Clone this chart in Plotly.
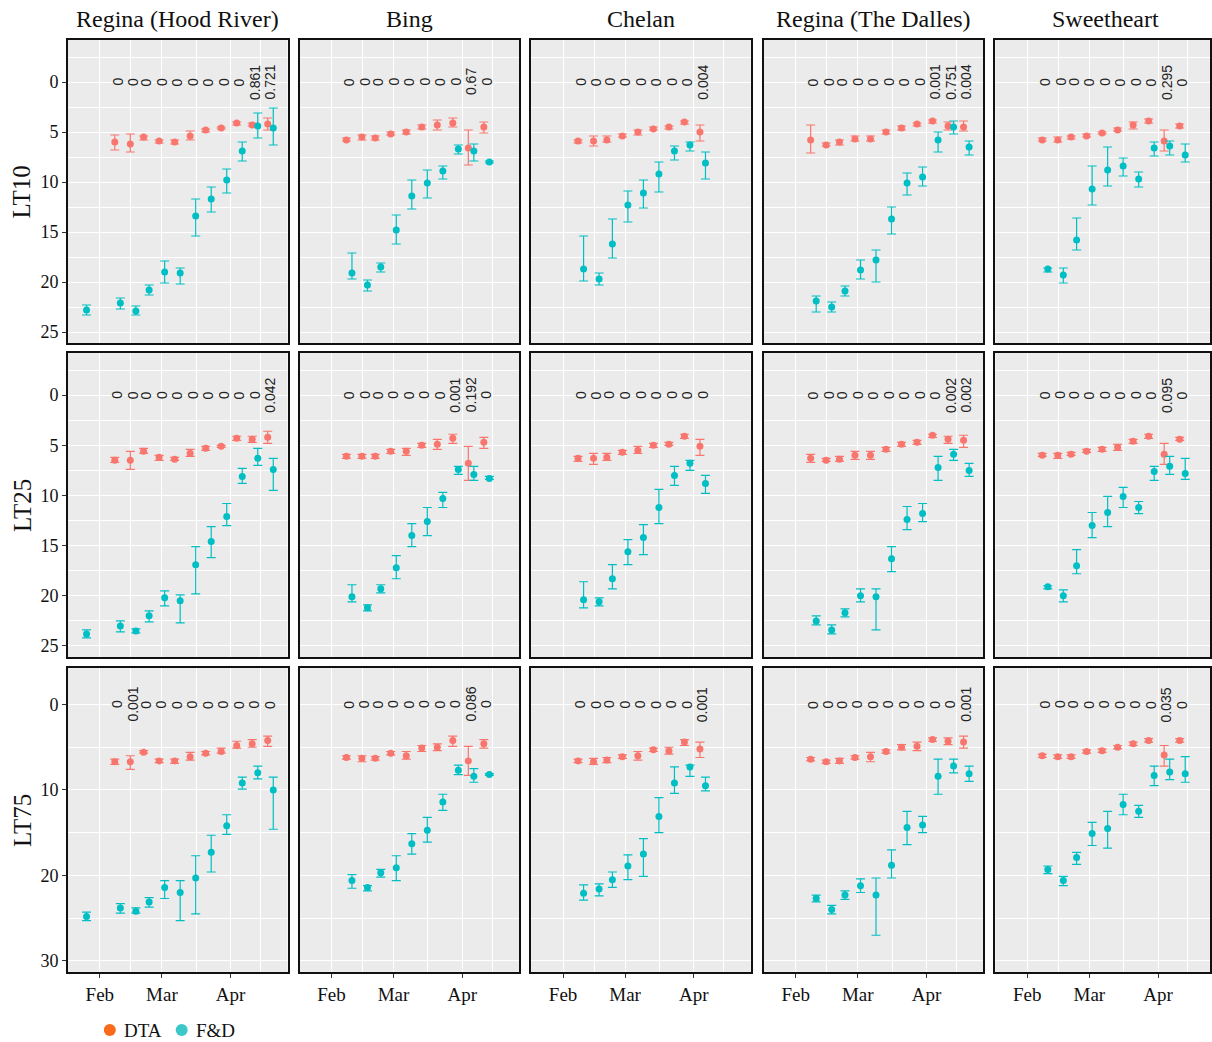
import pandas as pd
import plotly.graph_objects as go

# ---------------------------------------------------------------------------
# Sampling dates per cultivar / site
# ---------------------------------------------------------------------------
DATES_REGINA_HR = ["2021-01-26", "2021-02-09", "2021-02-16", "2021-02-22", "2021-03-01", "2021-03-08",
                   "2021-03-15", "2021-03-22", "2021-03-29", "2021-04-05", "2021-04-12", "2021-04-19"]
DATES_BING = ["2021-02-09", "2021-02-16", "2021-02-22", "2021-03-01", "2021-03-08",
              "2021-03-15", "2021-03-22", "2021-03-29", "2021-04-05", "2021-04-12"]
DATES_CHELAN = ["2021-02-09", "2021-02-16", "2021-02-22", "2021-03-01", "2021-03-08",
                "2021-03-15", "2021-03-22", "2021-03-29", "2021-04-05"]
DATES_REGINA_TD = ["2021-02-09", "2021-02-16", "2021-02-22", "2021-03-01", "2021-03-08", "2021-03-15",
                   "2021-03-22", "2021-03-29", "2021-04-05", "2021-04-12", "2021-04-19"]
DATES_SWEETHEART = ["2021-02-09", "2021-02-16", "2021-02-22", "2021-03-01", "2021-03-08",
                    "2021-03-15", "2021-03-22", "2021-03-29", "2021-04-05", "2021-04-12"]

CULTIVARS = ["Regina (Hood River)", "Bing", "Chelan", "Regina (The Dalles)", "Sweetheart"]
LEVELS = ["LT10", "LT25", "LT75"]

# ---------------------------------------------------------------------------
# LT10
# ---------------------------------------------------------------------------
LT10_RHR_DTA = [None, 6.0, 6.2, 5.5, 5.9, 6.0, 5.4, 4.8, 4.6, 4.1, 4.3, 4.2]
LT10_RHR_DTA_LO = [None, 5.3, 5.2, 5.4, 5.8, 5.8, 4.9, 4.7, 4.5, 4.0, 4.1, 3.6]
LT10_RHR_DTA_HI = [None, 6.8, 7.0, 5.8, 6.1, 6.2, 5.8, 5.0, 4.7, 4.3, 4.4, 4.8]
LT10_RHR_FD = [22.8, 22.1, 22.9, 20.8, 19.0, 19.1, 13.4, 11.7, 9.8, 6.9, 4.4, 4.6]
LT10_RHR_FD_LO = [22.3, 21.6, 22.4, 20.3, 17.9, 18.6, 11.7, 10.5, 8.7, 6.0, 3.1, 2.6]
LT10_RHR_FD_HI = [23.3, 22.7, 23.3, 21.3, 20.1, 20.2, 15.4, 13.0, 11.1, 7.9, 5.6, 6.3]
LT10_RHR_P = [None, "0", "0", "0", "0", "0", "0", "0", "0", "0", "0.861", "0.721"]

LT10_BING_DTA = [5.8, 5.5, 5.6, 5.2, 5.0, 4.5, 4.3, 4.1, 6.6, 4.5]
LT10_BING_DTA_LO = [5.6, 5.3, 5.4, 5.0, 4.8, 4.3, 3.8, 3.6, 4.8, 4.0]
LT10_BING_DTA_HI = [5.9, 5.8, 5.8, 5.3, 5.2, 4.7, 4.8, 4.5, 8.3, 5.1]
LT10_BING_FD = [19.1, 20.3, 18.5, 14.8, 11.4, 10.1, 8.9, 6.7, 6.9, 8.0]
LT10_BING_FD_LO = [17.1, 19.8, 18.1, 13.3, 9.8, 8.8, 8.4, 6.3, 6.2, 7.9]
LT10_BING_FD_HI = [19.7, 20.9, 19.0, 16.2, 12.7, 11.6, 9.7, 7.2, 7.9, 8.1]
LT10_BING_P = ["0", "0", "0", "0", "0", "0", "0", "0", "0.67", "0"]

LT10_CHELAN_DTA = [5.9, 5.9, 5.8, 5.4, 5.0, 4.7, 4.5, 4.0, 5.0]
LT10_CHELAN_DTA_LO = [5.8, 5.4, 5.4, 5.2, 4.8, 4.5, 4.4, 3.9, 4.3]
LT10_CHELAN_DTA_HI = [6.1, 6.4, 6.0, 5.5, 5.3, 4.8, 4.7, 4.2, 5.9]
LT10_CHELAN_FD = [18.7, 19.7, 16.2, 12.3, 11.1, 9.2, 6.9, 6.3, 8.1]
LT10_CHELAN_FD_LO = [15.4, 19.1, 13.7, 10.9, 9.8, 8.0, 6.4, 6.0, 7.0]
LT10_CHELAN_FD_HI = [19.9, 20.3, 17.6, 14.0, 12.6, 11.0, 7.8, 6.9, 9.7]
LT10_CHELAN_P = ["0", "0", "0", "0", "0", "0", "0", "0", "0.004"]

LT10_RTD_DTA = [5.8, 6.3, 6.0, 5.7, 5.7, 5.0, 4.6, 4.2, 3.9, 4.4, 4.5]
LT10_RTD_DTA_LO = [4.3, 6.1, 5.8, 5.4, 5.4, 4.8, 4.4, 4.1, 3.8, 4.0, 3.9]
LT10_RTD_DTA_HI = [7.1, 6.4, 6.3, 5.9, 5.9, 5.2, 4.8, 4.4, 4.1, 4.8, 4.9]
LT10_RTD_FD = [21.9, 22.5, 20.9, 18.8, 17.8, 13.7, 10.1, 9.5, 5.8, 4.5, 6.5]
LT10_RTD_FD_LO = [21.4, 22.0, 20.4, 17.8, 16.8, 12.5, 9.1, 8.5, 5.0, 3.9, 5.9]
LT10_RTD_FD_HI = [23.0, 23.0, 21.4, 19.7, 20.0, 15.2, 11.3, 10.4, 7.0, 5.2, 7.3]
LT10_RTD_P = ["0", "0", "0", "0", "0", "0", "0", "0", "0.001", "0.751", "0.004"]

LT10_SWEET_DTA = [5.8, 5.8, 5.5, 5.4, 5.1, 4.8, 4.3, 3.9, 5.9, 4.4]
LT10_SWEET_DTA_LO = [5.6, 5.5, 5.4, 5.2, 5.0, 4.6, 4.0, 3.7, 4.8, 4.2]
LT10_SWEET_DTA_HI = [5.9, 6.0, 5.7, 5.5, 5.2, 4.9, 4.7, 4.1, 6.9, 4.6]
LT10_SWEET_FD = [18.7, 19.3, 15.8, 10.7, 8.8, 8.4, 9.7, 6.6, 6.4, 7.3]
LT10_SWEET_FD_LO = [18.6, 18.6, 13.6, 8.4, 6.5, 7.6, 9.0, 6.0, 5.9, 6.2]
LT10_SWEET_FD_HI = [19.0, 20.1, 16.8, 12.3, 10.4, 9.4, 10.5, 7.4, 7.3, 8.0]
LT10_SWEET_P = ["0", "0", "0", "0", "0", "0", "0", "0", "0.295", "0"]

# ---------------------------------------------------------------------------
# LT25
# ---------------------------------------------------------------------------
LT25_RHR_DTA = [None, 6.5, 6.5, 5.6, 6.2, 6.4, 5.8, 5.3, 5.1, 4.3, 4.4, 4.2]
LT25_RHR_DTA_LO = [None, 6.2, 5.6, 5.3, 6.0, 6.2, 5.4, 5.1, 5.0, 4.1, 4.1, 3.6]
LT25_RHR_DTA_HI = [None, 6.7, 7.4, 5.8, 6.5, 6.5, 6.1, 5.5, 5.2, 4.5, 4.7, 4.8]
LT25_RHR_FD = [23.8, 23.0, 23.5, 22.0, 20.2, 20.5, 16.9, 14.6, 12.1, 8.1, 6.3, 7.4]
LT25_RHR_FD_LO = [23.4, 22.5, 23.3, 21.5, 19.5, 19.9, 15.1, 13.1, 10.8, 7.3, 5.3, 6.3]
LT25_RHR_FD_HI = [24.2, 23.6, 23.7, 22.6, 21.0, 22.7, 19.8, 16.2, 13.0, 8.8, 7.0, 9.5]
LT25_RHR_P = [None, "0", "0", "0", "0", "0", "0", "0", "0", "0", "0", "0.042"]

LT25_BING_DTA = [6.1, 6.1, 6.1, 5.6, 5.6, 5.0, 4.9, 4.3, 6.8, 4.7]
LT25_BING_DTA_LO = [5.9, 5.9, 5.9, 5.4, 5.3, 4.8, 4.4, 3.9, 5.1, 4.2]
LT25_BING_DTA_HI = [6.3, 6.3, 6.3, 5.8, 6.0, 5.2, 5.4, 4.8, 8.5, 5.3]
LT25_BING_FD = [20.1, 21.2, 19.3, 17.2, 14.0, 12.6, 10.3, 7.4, 7.9, 8.3]
LT25_BING_FD_LO = [18.9, 20.9, 18.9, 16.0, 12.8, 11.2, 9.7, 7.1, 7.1, 8.1]
LT25_BING_FD_HI = [20.6, 21.5, 19.7, 18.3, 15.1, 14.0, 11.2, 7.9, 8.5, 8.4]
LT25_BING_P = ["0", "0", "0", "0", "0", "0", "0", "0.001", "0.192", "0"]

LT25_CHELAN_DTA = [6.3, 6.3, 6.2, 5.7, 5.5, 5.0, 4.9, 4.1, 5.1]
LT25_CHELAN_DTA_LO = [6.1, 5.8, 5.8, 5.5, 5.1, 4.8, 4.7, 3.9, 4.4]
LT25_CHELAN_DTA_HI = [6.6, 6.9, 6.5, 5.9, 5.8, 5.2, 5.0, 4.3, 6.0]
LT25_CHELAN_FD = [20.4, 20.6, 18.3, 15.6, 14.2, 11.2, 8.0, 6.8, 8.8]
LT25_CHELAN_FD_LO = [18.6, 20.2, 16.9, 14.4, 12.9, 9.4, 7.1, 6.5, 8.0]
LT25_CHELAN_FD_HI = [21.2, 21.0, 19.3, 16.9, 15.9, 12.8, 9.0, 7.5, 9.8]
LT25_CHELAN_P = ["0", "0", "0", "0", "0", "0", "0", "0", "0"]

LT25_RTD_DTA = [6.3, 6.5, 6.4, 6.0, 6.0, 5.4, 4.9, 4.7, 4.0, 4.4, 4.5]
LT25_RTD_DTA_LO = [5.9, 6.3, 6.1, 5.6, 5.6, 5.2, 4.7, 4.5, 3.9, 4.1, 4.0]
LT25_RTD_DTA_HI = [6.7, 6.6, 6.6, 6.4, 6.4, 5.6, 5.1, 4.9, 4.2, 4.8, 5.2]
LT25_RTD_FD = [22.5, 23.4, 21.7, 20.0, 20.1, 16.3, 12.4, 11.8, 7.2, 5.9, 7.5]
LT25_RTD_FD_LO = [22.0, 22.9, 21.3, 19.3, 19.3, 15.1, 11.1, 10.8, 6.1, 5.4, 6.8]
LT25_RTD_FD_HI = [22.9, 23.8, 22.1, 20.6, 23.4, 17.6, 13.4, 12.6, 8.5, 6.5, 8.1]
LT25_RTD_P = ["0", "0", "0", "0", "0", "0", "0", "0", "0", "0.002", "0.002"]

LT25_SWEET_DTA = [6.0, 6.0, 5.9, 5.6, 5.4, 5.2, 4.6, 4.1, 5.9, 4.4]
LT25_SWEET_DTA_LO = [5.8, 5.8, 5.7, 5.4, 5.2, 4.9, 4.4, 3.9, 4.8, 4.2]
LT25_SWEET_DTA_HI = [6.1, 6.3, 6.0, 5.7, 5.6, 5.5, 4.8, 4.3, 6.9, 4.5]
LT25_SWEET_FD = [19.1, 20.0, 17.0, 13.0, 11.7, 10.1, 11.2, 7.6, 7.1, 7.8]
LT25_SWEET_FD_LO = [19.0, 19.4, 15.4, 11.7, 10.1, 9.2, 10.6, 7.1, 6.1, 6.3]
LT25_SWEET_FD_HI = [19.3, 20.6, 17.8, 14.2, 13.1, 11.2, 11.8, 8.5, 7.9, 8.4]
LT25_SWEET_P = ["0", "0", "0", "0", "0", "0", "0", "0", "0.095", "0"]

# ---------------------------------------------------------------------------
# LT75
# ---------------------------------------------------------------------------
LT75_RHR_DTA = [None, 6.7, 6.7, 5.6, 6.6, 6.6, 6.1, 5.7, 5.5, 4.8, 4.6, 4.2]
LT75_RHR_DTA_LO = [None, 6.4, 6.0, 5.4, 6.4, 6.4, 5.6, 5.5, 5.1, 4.3, 4.1, 3.7]
LT75_RHR_DTA_HI = [None, 7.0, 7.6, 5.7, 6.8, 6.9, 6.5, 5.9, 5.7, 5.1, 5.0, 4.9]
LT75_RHR_FD = [24.8, 23.8, 24.2, 23.1, 21.4, 22.0, 20.3, 17.3, 14.2, 9.2, 8.0, 10.0]
LT75_RHR_FD_LO = [24.3, 23.3, 23.8, 22.6, 20.6, 20.6, 17.7, 15.3, 12.9, 8.5, 7.2, 8.5]
LT75_RHR_FD_HI = [25.3, 24.4, 24.4, 23.7, 22.7, 25.3, 24.5, 19.6, 15.2, 9.9, 8.7, 14.6]
LT75_RHR_P = [None, "0", "0.001", "0", "0", "0", "0", "0", "0", "0", "0", "0"]

LT75_BING_DTA = [6.2, 6.3, 6.3, 5.7, 6.0, 5.1, 5.0, 4.2, 6.6, 4.6]
LT75_BING_DTA_LO = [6.0, 6.0, 6.1, 5.5, 5.5, 4.8, 4.6, 3.7, 4.9, 4.1]
LT75_BING_DTA_HI = [6.4, 6.7, 6.5, 5.9, 6.4, 5.5, 5.4, 4.9, 8.3, 5.1]
LT75_BING_FD = [20.6, 21.4, 19.7, 19.1, 16.3, 14.7, 11.4, 7.7, 8.4, 8.2]
LT75_BING_FD_LO = [19.9, 21.2, 19.3, 17.7, 15.1, 13.2, 10.5, 7.1, 7.5, 8.1]
LT75_BING_FD_HI = [21.5, 21.8, 20.2, 20.6, 17.5, 16.1, 12.4, 8.2, 9.1, 8.3]
LT75_BING_P = ["0", "0", "0", "0", "0", "0", "0", "0", "0.086", "0"]

LT75_CHELAN_DTA = [6.6, 6.7, 6.5, 6.1, 6.0, 5.3, 5.4, 4.4, 5.2]
LT75_CHELAN_DTA_LO = [6.4, 6.3, 6.2, 5.9, 5.5, 5.1, 5.0, 4.1, 4.4]
LT75_CHELAN_DTA_HI = [6.8, 7.0, 6.8, 6.3, 6.5, 5.5, 5.8, 4.8, 6.2]
LT75_CHELAN_FD = [22.1, 21.6, 20.5, 18.9, 17.5, 13.1, 9.2, 7.3, 9.5]
LT75_CHELAN_FD_LO = [21.1, 21.0, 19.6, 17.6, 15.7, 10.9, 7.3, 7.1, 8.5]
LT75_CHELAN_FD_HI = [22.9, 22.4, 21.4, 20.5, 20.1, 15.0, 10.4, 8.4, 10.1]
LT75_CHELAN_P = ["0", "0", "0", "0", "0", "0", "0", "0", "0.001"]

LT75_RTD_DTA = [6.4, 6.7, 6.6, 6.2, 6.1, 5.5, 5.0, 4.9, 4.1, 4.3, 4.4]
LT75_RTD_DTA_LO = [6.2, 6.5, 6.3, 6.0, 5.6, 5.3, 4.7, 4.4, 3.9, 3.9, 3.7]
LT75_RTD_DTA_HI = [6.6, 6.9, 6.9, 6.4, 6.7, 5.7, 5.3, 5.4, 4.3, 4.7, 5.1]
LT75_RTD_FD = [22.7, 24.0, 22.3, 21.2, 22.3, 18.8, 14.4, 14.1, 8.4, 7.2, 8.1]
LT75_RTD_FD_LO = [22.3, 23.5, 21.8, 20.4, 20.3, 17.0, 12.5, 13.1, 6.4, 6.4, 7.2]
LT75_RTD_FD_HI = [23.1, 24.5, 22.8, 22.0, 27.0, 20.3, 16.4, 15.0, 10.5, 8.0, 9.0]
LT75_RTD_P = ["0", "0", "0", "0", "0", "0", "0", "0", "0", "0", "0.001"]

LT75_SWEET_DTA = [6.0, 6.1, 6.1, 5.5, 5.4, 5.0, 4.6, 4.2, 5.9, 4.2]
LT75_SWEET_DTA_LO = [5.8, 5.9, 5.9, 5.3, 5.2, 4.8, 4.4, 4.0, 4.8, 4.0]
LT75_SWEET_DTA_HI = [6.2, 6.3, 6.3, 5.7, 5.6, 5.2, 4.8, 4.4, 7.2, 4.4]
LT75_SWEET_FD = [19.3, 20.6, 17.9, 15.1, 14.5, 11.7, 12.5, 8.3, 7.9, 8.1]
LT75_SWEET_FD_LO = [18.9, 20.1, 17.3, 13.8, 12.5, 10.5, 11.8, 7.2, 6.4, 6.1]
LT75_SWEET_FD_HI = [19.8, 21.2, 18.7, 16.5, 16.8, 12.9, 13.2, 9.5, 8.8, 9.1]
LT75_SWEET_P = ["0", "0", "0", "0", "0", "0", "0", "0", "0.035", "0"]

# panel registry: (row, col) -> series
COL_KEYS = ["RHR", "BING", "CHELAN", "RTD", "SWEET"]
COL_DATES = [DATES_REGINA_HR, DATES_BING, DATES_CHELAN, DATES_REGINA_TD, DATES_SWEETHEART]
G = globals()


def panel(r, c):
    p = f"{LEVELS[r]}_{COL_KEYS[c]}"
    return dict(dates=COL_DATES[c],
                dta=G[p + "_DTA"], dta_lo=G[p + "_DTA_LO"], dta_hi=G[p + "_DTA_HI"],
                fd=G[p + "_FD"], fd_lo=G[p + "_FD_LO"], fd_hi=G[p + "_FD_HI"],
                p=G[p + "_P"])


# ---------------------------------------------------------------------------
# Layout geometry (pixels)
# ---------------------------------------------------------------------------
W, H = 1212, 1042
COL_LEFT = [68, 300, 532, 765, 997]
PANEL_W = 220
ROW_TOP = [40, 353, 668]
ROW_BOT = [343, 657, 972]
PX_PER_DAY = 2.22
FEB1 = pd.Timestamp("2021-02-01")
X_START = FEB1 - pd.Timedelta(days=32 / PX_PER_DAY)
Y_RANGES = [[26.1, -4.2], [26.1, -4.2], [31.3, -4.27]]
Y_TICKS = [[0, 5, 10, 15, 20, 25], [0, 5, 10, 15, 20, 25], [0, 10, 20, 30]]
Y_MINOR = [2.5, 2.5, 5]
DODGE = pd.Timedelta(hours=30)

DTA_COL = "#F8766D"
FD_COL = "#00BFC4"
SERIF = "Liberation Serif, Times New Roman, serif"
SANS = "Liberation Sans, Arial, sans-serif"

fig = go.Figure()
layout = dict(width=W, height=H, margin=dict(l=0, r=0, t=0, b=0),
              paper_bgcolor="white", plot_bgcolor="#EBEBEB", showlegend=False)
annotations = []
shapes = []


def xf(px):
    return px / W


def yf(py):
    return (H - py) / H


def errs(vals, lo, hi):
    return ([h - v for v, h in zip(vals, hi)], [v - l for v, l in zip(vals, lo)])


for r in range(3):
    for c in range(5):
        idx = r * 5 + c + 1
        xa = "x" if idx == 1 else f"x{idx}"
        ya = "y" if idx == 1 else f"y{idx}"
        xkey = "xaxis" if idx == 1 else f"xaxis{idx}"
        ykey = "yaxis" if idx == 1 else f"yaxis{idx}"
        left = COL_LEFT[c]
        right = min(left + PANEL_W, W)
        x_end = X_START + pd.Timedelta(days=(right - left) / PX_PER_DAY)

        layout[xkey] = dict(
            domain=[xf(left), xf(right)], anchor=ya, type="date",
            range=[X_START, x_end],
            tickmode="array",
            tickvals=["2021-02-01", "2021-03-01", "2021-04-01"],
            ticktext=["Feb", "Mar", "Apr"],
            showticklabels=(r == 2), ticks="outside" if r == 2 else "",
            ticklen=4, tickcolor="#333333",
            tickfont=dict(family=SERIF, size=19, color="#111111"),
            showgrid=True, gridcolor="white", gridwidth=1.2,
            minor=dict(tickmode="array",
                       tickvals=["2021-02-15", "2021-03-16 12:00", "2021-04-14 12:00"],
                       showgrid=True, gridcolor="white", gridwidth=0.6, ticks=""),
            showline=True, mirror=True, linecolor="#111111", linewidth=1.5,
            zeroline=False, fixedrange=True,
        )
        layout[ykey] = dict(
            domain=[yf(ROW_BOT[r]), yf(ROW_TOP[r])], anchor=xa,
            range=Y_RANGES[r], tickmode="array", tickvals=Y_TICKS[r],
            showticklabels=(c == 0), ticks="outside" if c == 0 else "",
            ticklen=4, tickcolor="#333333",
            tickfont=dict(family=SERIF, size=18, color="#111111"),
            showgrid=True, gridcolor="white", gridwidth=1.2,
            minor=dict(dtick=Y_MINOR[r], tick0=0, showgrid=True,
                       gridcolor="white", gridwidth=0.6, ticks=""),
            showline=True, mirror=True, linecolor="#111111", linewidth=1.5,
            zeroline=False, fixedrange=True,
        )

        d = panel(r, c)
        dates = pd.to_datetime(d["dates"])

        # DTA series (dodged left)
        keep = [i for i, v in enumerate(d["dta"]) if v is not None]
        v = [d["dta"][i] for i in keep]
        up, dn = errs(v, [d["dta_lo"][i] for i in keep], [d["dta_hi"][i] for i in keep])
        fig.add_trace(go.Scatter(
            x=[dates[i] - DODGE for i in keep], y=v, mode="markers",
            marker=dict(color=DTA_COL, size=7),
            error_y=dict(type="data", symmetric=False, array=up, arrayminus=dn,
                         color=DTA_COL, thickness=1.2, width=4.5),
            xaxis=xa, yaxis=ya, name="DTA", hoverinfo="skip"))

        # F&D series (dodged right when paired with DTA)
        fx = [dates[i] + (DODGE if d["dta"][i] is not None else pd.Timedelta(0))
              for i in range(len(dates))]
        up, dn = errs(d["fd"], d["fd_lo"], d["fd_hi"])
        fig.add_trace(go.Scatter(
            x=fx, y=d["fd"], mode="markers",
            marker=dict(color=FD_COL, size=7),
            error_y=dict(type="data", symmetric=False, array=up, arrayminus=dn,
                         color=FD_COL, thickness=1.2, width=4.5),
            xaxis=xa, yaxis=ya, name="F&D", hoverinfo="skip"))

        # p-values written vertically along y = 0
        for dt, txt in zip(dates, d["p"]):
            if txt is None:
                continue
            annotations.append(dict(
                x=dt, y=0, xref=xa, yref=ya, text=txt, showarrow=False,
                textangle=-90, font=dict(family=SANS, size=14, color="#222222"),
                xanchor="center", yanchor="middle"))

# facet strip titles
for c, name in enumerate(CULTIVARS):
    cx = COL_LEFT[c] + PANEL_W / 2
    annotations.append(dict(x=xf(cx), y=yf(19), xref="paper", yref="paper", text=name,
                            showarrow=False, font=dict(family=SERIF, size=24, color="#111111"),
                            xanchor="center", yanchor="middle"))

# row titles
for r, name in enumerate(LEVELS):
    cy = (ROW_TOP[r] + ROW_BOT[r]) / 2
    annotations.append(dict(x=xf(22), y=yf(cy), xref="paper", yref="paper", text=name,
                            showarrow=False, textangle=-90,
                            font=dict(family=SERIF, size=25, color="#111111"),
                            xanchor="center", yanchor="middle"))

# legend
LEGEND_ITEMS = [("DTA", "#F96A1B", 110), ("F&D", "#3CC8C8", 182)]
for label, col, cx in LEGEND_ITEMS:
    shapes.append(dict(type="circle", xref="paper", yref="paper",
                       x0=xf(cx - 6), x1=xf(cx + 6), y0=yf(1036), y1=yf(1024),
                       fillcolor=col, line=dict(width=0)))
    annotations.append(dict(x=xf(cx + 12), y=yf(1030), xref="paper", yref="paper", text=label,
                            showarrow=False, font=dict(family=SERIF, size=19, color="#111111"),
                            xanchor="left", yanchor="middle"))

layout["annotations"] = annotations
layout["shapes"] = shapes
fig.update_layout(**layout)
fig.write_html("out.html", config={"displayModeBar": False})
